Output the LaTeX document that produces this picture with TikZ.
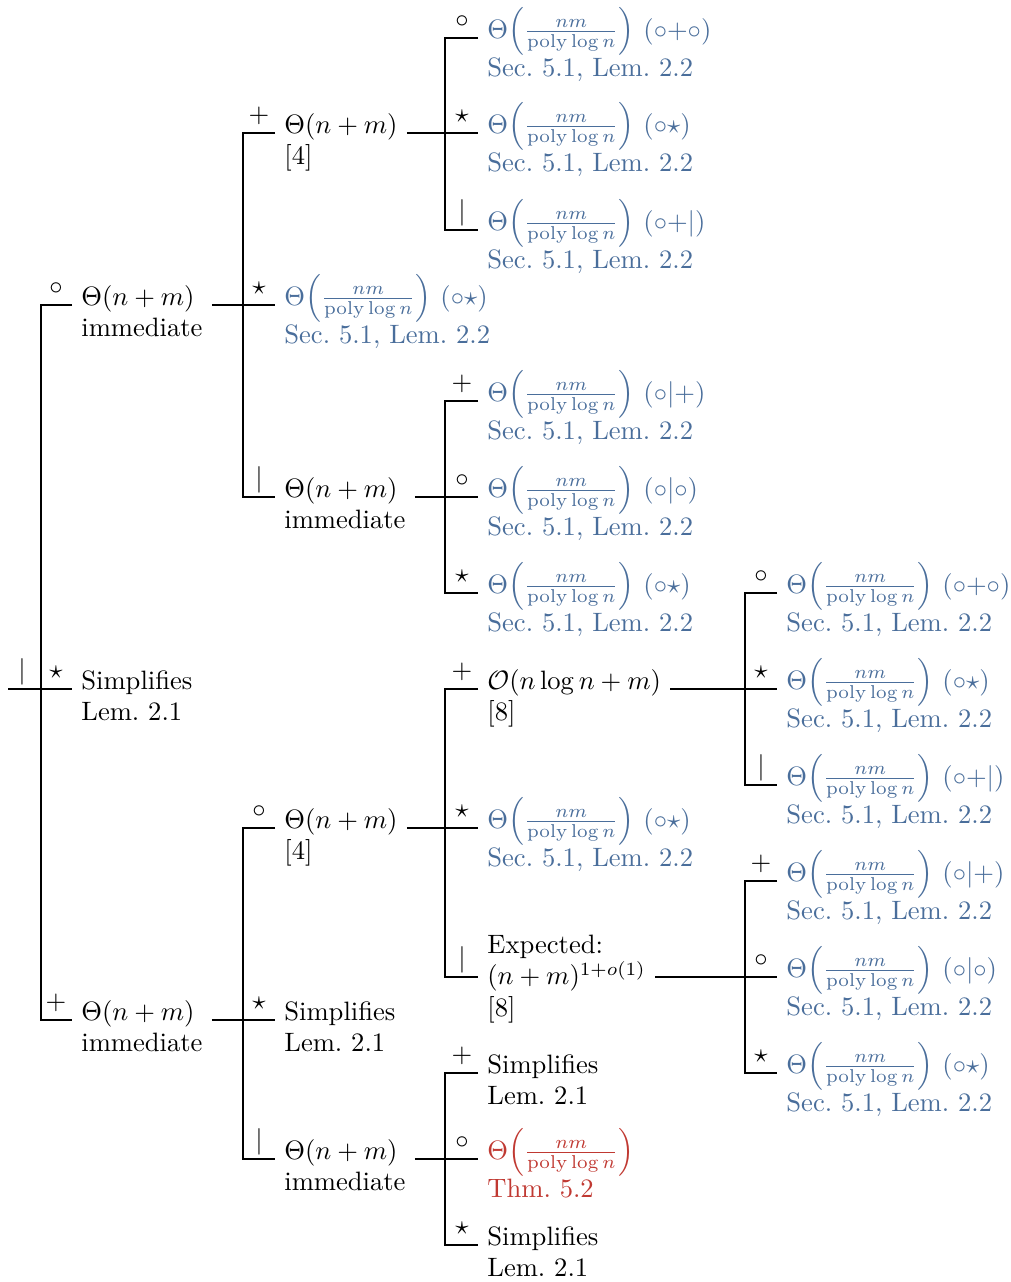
\documentclass[tikz,border=0pt]{standalone}
\usepackage{amsmath}
\usepackage{amsfonts}
\usepackage{amssymb}
\usepackage{tikz}

\definecolor{leafblue}{RGB}{74,110,155}
\definecolor{leafred}{RGB}{192,57,50}
\newcommand{\pfrac}{\Theta\!\left(\frac{nm}{\operatorname{poly}\log n}\right)}
\newcommand{\twoline}[2]{\vtop{\hbox{#1}\hbox{#2}}}
\newcommand{\threeline}[3]{\vtop{\hbox{#1}\hbox{#2}\hbox{#3}}}

\tikzset{
	txt/.style={anchor=base west},
	blu/.style={txt, text=leafblue},
	sym/.style={anchor=base, inner sep=0pt, xshift=-6pt, yshift=3.9pt},
}

\begin{document}
\begin{tikzpicture}[x=0.376pt,y=-0.376pt]
			\useasboundingbox (0,0) rectangle (1011,1282);
			% first level
			\node[txt] (a) at (72,305) {\twoline{$\Theta(n+m)$}{immediate}};
			\node[txt] (b) at (72,689) {\twoline{Simplifies}{Lem.~2.1}};
			\node[txt] (c) at (72,1020) {\twoline{$\Theta(n+m)$}{immediate}};
			% second level
			\node[txt] (a1) at (275,133) {\twoline{$\Theta(n+m)$}{[4]}};
			\node[blu] (a2) at (275,305) {\twoline{$\pfrac$ $(\circ\star)$}{Sec.~5.1, Lem.~2.2}};
			\node[txt] (a3) at (275,497) {\twoline{$\Theta(n+m)$}{immediate}};
			\node[txt] (c1) at (275,828) {\twoline{$\Theta(n+m)$}{[4]}};
			\node[txt] (c2) at (275,1020) {\twoline{Simplifies}{Lem.~2.1}};
			\node[txt] (c3) at (275,1159) {\twoline{$\Theta(n+m)$}{immediate}};
			% third level
			\node[blu] (a1-1) at (478,38) {\twoline{$\pfrac$ $(\circ{+}\circ)$}{Sec.~5.1, Lem.~2.2}};
			\node[blu] (a1-2) at (478,133) {\twoline{$\pfrac$ $(\circ\star)$}{Sec.~5.1, Lem.~2.2}};
			\node[blu] (a1-3) at (478,230) {\twoline{$\pfrac$ $(\circ{+}|)$}{Sec.~5.1, Lem.~2.2}};
			\node[blu] (a3-1) at (478,401) {\twoline{$\pfrac$ $(\circ|{+})$}{Sec.~5.1, Lem.~2.2}};
			\node[blu] (a3-2) at (478,497) {\twoline{$\pfrac$ $(\circ|\circ)$}{Sec.~5.1, Lem.~2.2}};
			\node[blu] (a3-3) at (478,593) {\twoline{$\pfrac$ $(\circ\star)$}{Sec.~5.1, Lem.~2.2}};
			\node[txt] (c1-1) at (478,689) {\twoline{$\mathcal{O}(n\log n+m)$}{[8]}};
			\node[blu] (c1-2) at (478,828) {\twoline{$\pfrac$ $(\circ\star)$}{Sec.~5.1, Lem.~2.2}};
			\coordinate (c1-3in) at (478,977);
			\node[txt] (c1-3) at (478,953) {\threeline{Expected:}{$(n+m)^{1+o(1)}$}{[8]}};
			\node[txt] (c3-1) at (478,1073) {\twoline{Simplifies}{Lem.~2.1}};
			\node[txt, text=leafred] (c3-2) at (478,1159) {\twoline{$\pfrac$}{Thm.~5.2}};
			\node[txt] (c3-3) at (478,1245) {\twoline{Simplifies}{Lem.~2.1}};
			% fourth level
			\node[blu] (c1-1-1) at (777,593) {\twoline{$\pfrac$ $(\circ{+}\circ)$}{Sec.~5.1, Lem.~2.2}};
			\node[blu] (c1-1-2) at (777,689) {\twoline{$\pfrac$ $(\circ\star)$}{Sec.~5.1, Lem.~2.2}};
			\node[blu] (c1-1-3) at (777,785) {\twoline{$\pfrac$ $(\circ{+}|)$}{Sec.~5.1, Lem.~2.2}};
			\node[blu] (c1-3-1) at (777,881) {\twoline{$\pfrac$ $(\circ|{+})$}{Sec.~5.1, Lem.~2.2}};
			\node[blu] (c1-3-2) at (777,977) {\twoline{$\pfrac$ $(\circ|\circ)$}{Sec.~5.1, Lem.~2.2}};
			\node[blu] (c1-3-3) at (777,1073) {\twoline{$\pfrac$ $(\circ\star)$}{Sec.~5.1, Lem.~2.2}};
			% brackets
			\coordinate (root) at (8,689);
			\coordinate (bar0) at (41,689);
			\coordinate (barA) at (243,305);
			\coordinate (barA1) at (445,133);
			\coordinate (barA3) at (445,497);
			\coordinate (barC) at (243,1020);
			\coordinate (barC1) at (445,828);
			\coordinate (barC3) at (445,1159);
			\coordinate (barC11) at (745,689);
			\coordinate (barC13) at (745,977);
			\draw (root) -- (b.base west);
			\draw (a.base west) -| (bar0) |- (c.base west);
			\draw (a.base east) -- (a2.base west);
			\draw (a1.base west) -| (barA) |- (a3.base west);
			\draw (a1.base east) -- (a1-2.base west);
			\draw (a1-1.base west) -| (barA1) |- (a1-3.base west);
			\draw (a3.base east) -- (a3-2.base west);
			\draw (a3-1.base west) -| (barA3) |- (a3-3.base west);
			\draw (c.base east) -- (c2.base west);
			\draw (c1.base west) -| (barC) |- (c3.base west);
			\draw (c1.base east) -- (c1-2.base west);
			\draw (c1-1.base west) -| (barC1) |- (c1-3in);
			\draw (c3.base east) -- (c3-2.base west);
			\draw (c3-1.base west) -| (barC3) |- (c3-3.base west);
			\draw (c1-1.base east) -- (c1-1-2.base west);
			\draw (c1-1-1.base west) -| (barC11) |- (c1-1-3.base west);
			\draw (c1-3.east |- c1-3in) -- (c1-3-2.base west);
			\draw (c1-3-1.base west) -| (barC13) |- (c1-3-3.base west);
			% branch symbols
			\node[sym] (rs) at (38,689) {$|$};
			\node[sym] (as) at (a.base west) {$\circ$};
			\node[sym] (bs) at (b.base west) {$\star$};
			\node[sym] (cs) at (c.base west) {$+$};
			\node[sym] (a1s) at (a1.base west) {$+$};
			\node[sym] (a2s) at (a2.base west) {$\star$};
			\node[sym] (a3s) at (a3.base west) {$|$};
			\node[sym] (c1s) at (c1.base west) {$\circ$};
			\node[sym] (c2s) at (c2.base west) {$\star$};
			\node[sym] (c3s) at (c3.base west) {$|$};
			\node[sym] (a1-1s) at (a1-1.base west) {$\circ$};
			\node[sym] (a1-2s) at (a1-2.base west) {$\star$};
			\node[sym] (a1-3s) at (a1-3.base west) {$|$};
			\node[sym] (a3-1s) at (a3-1.base west) {$+$};
			\node[sym] (a3-2s) at (a3-2.base west) {$\circ$};
			\node[sym] (a3-3s) at (a3-3.base west) {$\star$};
			\node[sym] (c1-1s) at (c1-1.base west) {$+$};
			\node[sym] (c1-2s) at (c1-2.base west) {$\star$};
			\node[sym] (c1-3s) at (c1-3in) {$|$};
			\node[sym] (c3-1s) at (c3-1.base west) {$+$};
			\node[sym] (c3-2s) at (c3-2.base west) {$\circ$};
			\node[sym] (c3-3s) at (c3-3.base west) {$\star$};
			\node[sym] (c1-1-1s) at (c1-1-1.base west) {$\circ$};
			\node[sym] (c1-1-2s) at (c1-1-2.base west) {$\star$};
			\node[sym] (c1-1-3s) at (c1-1-3.base west) {$|$};
			\node[sym] (c1-3-1s) at (c1-3-1.base west) {$+$};
			\node[sym] (c1-3-2s) at (c1-3-2.base west) {$\circ$};
			\node[sym] (c1-3-3s) at (c1-3-3.base west) {$\star$};
		\end{tikzpicture}
\end{document}
